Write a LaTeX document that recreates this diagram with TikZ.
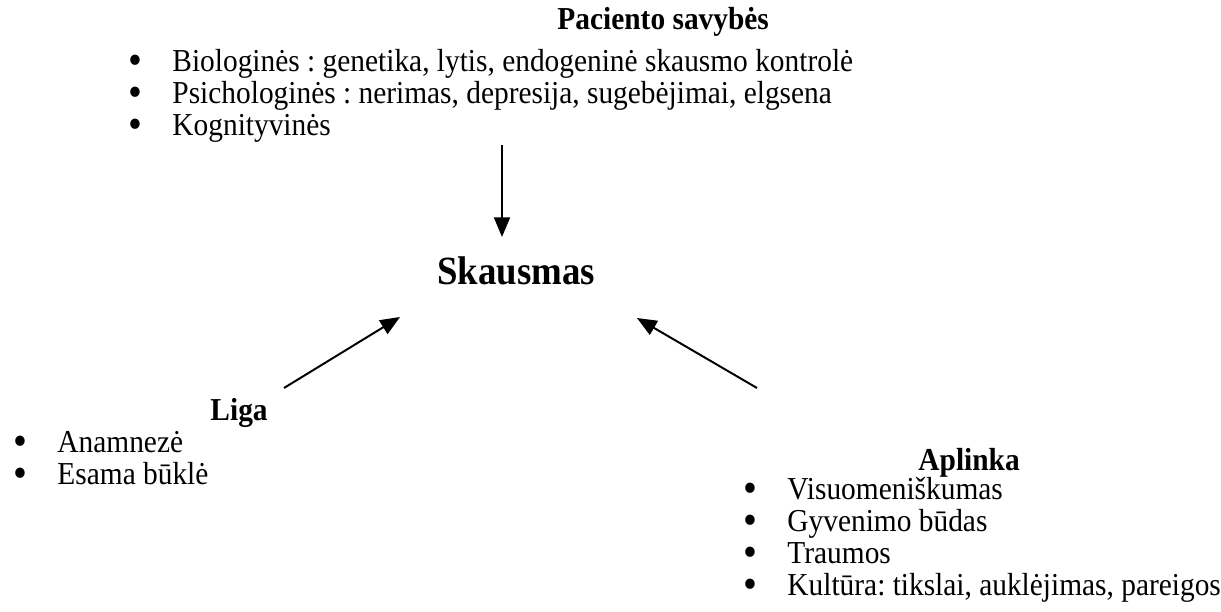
\documentclass[tikz,border=0pt]{standalone}
\usepackage{fontspec}
\setmainfont{Liberation Serif}[FakeStretch=0.92]
\usetikzlibrary{arrows.meta,positioning}
\frenchspacing
\setlength{\lineskiplimit}{-20pt}
\newcommand{\itm}[1]{\makebox[17.9pt][l]{\raisebox{-0.07em}{\scalebox{1.35}{\textbullet}}}#1}

\begin{document}
\begin{tikzpicture}[
  x=0.407pt, y=-0.407pt,
  head/.style={font=\fontsize{13}{12.82}\selectfont\bfseries,inner sep=0pt,anchor=base west},
  items/.style={font=\fontsize{13}{13.02}\selectfont,align=left,inner sep=0pt,anchor=north west},
  arr/.style={-{Triangle[length=8pt,width=6.5pt]},line width=0.8pt}
]
\useasboundingbox (0,0) rectangle (1221,612);
% top group
\node[head] (pac) at (557,30) {Paciento savybės};
\node[items] (paclist) at (128,49) {\strut\itm{Biologinės : genetika, lytis, endogeninė skausmo kontrolė}\\ \itm{Psichologinės : nerimas, depresija, sugebėjimai, elgsena}\\ \itm{Kognityvinės}};
% centre
\node[font=\fontsize{16.3}{18}\selectfont\bfseries,inner sep=0pt,anchor=base west] (skausmas) at (437,285) {Skausmas};
% left group
\node[head] (liga) at (210,421) {Liga};
\node[items] (ligalist) at (13,430) {\strut\itm{Anamnezė}\\ \itm{Esama būklė}};
% right group
\node[head] (aplinka) at (918,471) {Aplinka};
\node[items] (aplist) at (743,477) {\strut\itm{Visuomeniškumas}\\ \itm{Gyvenimo būdas}\\ \itm{Traumos}\\ \itm{Kultūra: tikslai, auklėjimas, pareigos}};
% arrows
\coordinate (pac-out) at (502,145);
\coordinate (sk-top) at (502,237);
\coordinate (liga-out) at (284,388);
\coordinate (sk-left) at (400,317);
\coordinate (apl-out) at (757,388);
\coordinate (sk-right) at (637,318);
\draw[arr] (pac-out) -- (sk-top);
\draw[arr] (liga-out) -- (sk-left);
\draw[arr] (apl-out) -- (sk-right);
\end{tikzpicture}
\end{document}
